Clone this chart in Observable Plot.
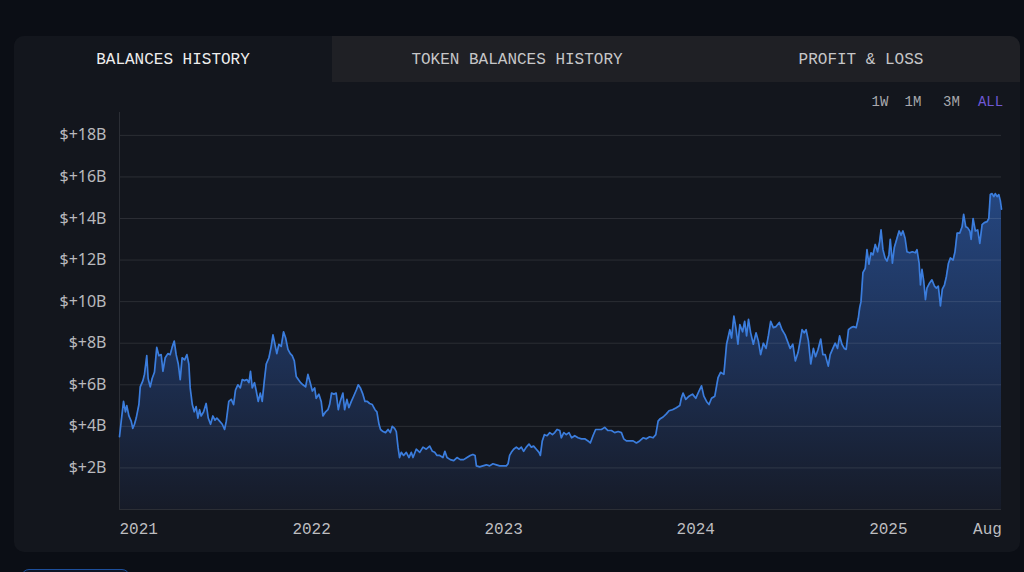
<!DOCTYPE html>
<html><head><meta charset="utf-8">
<script src="https://cdn.jsdelivr.net/npm/d3@7"></script>
<script src="https://cdn.jsdelivr.net/npm/@observablehq/plot@0.6"></script>
<style>
html,body{margin:0;padding:0;background:#0b0e15;width:1024px;height:572px;overflow:hidden;}
#card{position:absolute;left:14px;top:36px;width:1006px;height:516px;background:#13161d;border-radius:10px;overflow:hidden;}
.tab{position:absolute;top:0;height:46px;line-height:48px;text-align:center;font-family:"Liberation Mono",monospace;font-size:16px;color:#c6c6c8;}
#t1{left:0;width:318px;color:#ededed;background:#13161d}
#t2{left:318px;width:370px;background:#1f2025}
#t3{left:688px;width:318px;background:#1f2025}
.rng{position:absolute;top:56px;width:40px;height:20px;line-height:20px;text-align:center;font-family:"Liberation Mono",monospace;font-size:14px;color:#a9a9ad;z-index:2}
#chart{position:absolute;left:0;top:46px;}
#btn{position:absolute;left:21px;top:569px;width:107px;height:30px;border:1.5px solid #1d4f9c;border-radius:8px;background:#0d1526;}
</style></head>
<body>
<div id="card">
  <div class="tab" id="t1">BALANCES HISTORY</div>
  <div class="tab" id="t2">TOKEN BALANCES HISTORY</div>
  <div class="tab" id="t3">PROFIT &amp; LOSS</div>
  <div id="ranges"></div>
  <div id="chart"></div>
</div>
<div id="btn"></div>
<script>
// years elapsed since 2021-01-01 for each reading
const tYears = [
0.000,0.009,0.021,0.031,0.038,0.049,0.061,0.069,0.078,0.087,0.101,0.108,0.122,0.130,0.142,0.149,0.160,0.170,0.182,0.194,
0.205,0.217,0.226,0.238,0.252,0.264,0.274,0.285,0.295,0.306,0.316,0.326,0.339,0.351,0.361,0.368,0.379,0.389,0.399,0.408,
0.417,0.425,0.438,0.451,0.462,0.474,0.486,0.497,0.507,0.521,0.535,0.547,0.556,0.569,0.582,0.594,0.604,0.616,0.629,0.639,
0.651,0.663,0.674,0.682,0.691,0.703,0.712,0.722,0.733,0.743,0.754,0.764,0.778,0.790,0.799,0.809,0.819,0.830,0.842,0.854,
0.865,0.877,0.889,0.899,0.910,0.920,0.931,0.943,0.955,0.969,0.981,0.993,1.004,1.016,1.024,1.038,1.050,1.059,1.073,1.085,
1.094,1.104,1.116,1.128,1.139,1.149,1.163,1.172,1.184,1.194,1.207,1.219,1.233,1.243,1.254,1.267,1.278,1.290,1.302,1.316,
1.330,1.340,1.351,1.359,1.372,1.385,1.398,1.410,1.420,1.432,1.441,
1.450,1.458,1.467,1.479,1.493,1.507,1.519,1.528,1.545,1.563,1.580,1.597,1.615,1.629,1.641,1.653,1.667,1.684,1.694,1.705,
1.722,1.740,1.757,1.774,1.792,1.809,1.826,1.840,1.851,1.858,1.875,1.892,1.910,1.927,1.944,1.962,1.979,1.997,2.014,2.023,
2.031,2.040,2.052,2.066,2.080,2.092,2.104,2.118,2.132,2.144,2.156,2.170,2.184,2.191,2.201,2.212,2.226,2.240,2.254,2.266,
2.278,2.292,2.300,2.313,2.326,2.340,2.354,2.370,2.387,2.405,2.422,2.439,2.451,2.465,2.479,2.491,2.509,2.526,2.543,2.561,
2.578,2.596,2.613,2.625,2.639,2.656,2.674,2.691,2.708,2.726,2.743,2.760,2.778,2.792,2.804,2.813,2.830,2.847,2.861,2.879,
2.899,2.917,
2.925,2.934,2.948,2.965,2.983,3.000,3.017,3.030,3.042,3.056,3.069,3.082,3.099,3.116,3.129,3.146,3.160,3.177,3.186,3.198,
3.208,3.219,3.229,3.243,3.254,3.264,3.274,3.285,3.299,3.313,3.325,3.337,3.351,3.365,3.377,3.389,3.403,3.417,3.434,3.448,
3.464,3.476,3.490,3.504,3.517,3.531,3.542,3.552,3.563,3.573,3.585,3.597,3.611,3.622,3.635,3.649,3.660,3.672,3.688,3.698,
3.712,3.724,3.736,3.747,3.759,3.771,3.781,3.793,3.806,3.819,3.833,3.844,3.851,3.858,3.868,3.880,3.889,3.899,3.910,3.920,
3.932,3.944,3.955,3.962,3.972,3.983,3.993,4.003,4.010,4.021,4.031,4.045,4.056,4.066,4.076,4.087,4.097,4.111,4.125,4.141,
4.149,4.160,4.167,4.175,4.184,4.193,4.201,4.215,4.227,4.240,4.250,4.260,4.271,4.281,4.292,4.302,4.313,4.323,4.337,4.347,
4.358,4.372,4.384,4.392,4.403,4.413,4.424,4.431,4.441,4.453,4.465,4.476,4.488,4.500,4.514,4.523,4.528,4.531,4.540,4.549,
4.557,4.566,4.575,4.583,4.589
];
// balance in billions of USD
const balances = [
3.5,4.25,5.2,4.7,5.0,4.5,4.25,3.9,4.1,4.4,5.05,5.9,6.2,6.5,7.4,6.3,5.9,6.3,6.6,7.8,
7.4,7.45,6.65,7.3,7.5,7.45,7.8,8.1,7.45,7.0,6.25,7.3,7.2,7.45,7.0,5.85,5.05,4.7,4.95,4.4,
4.8,4.5,4.7,5.1,4.4,4.1,4.5,4.3,4.4,4.25,4.1,3.85,4.25,5.2,5.3,5.05,5.75,6.0,5.85,6.25,
6.2,6.25,6.1,6.65,5.85,6.1,5.7,5.2,5.6,5.2,6.2,7.0,7.3,7.85,8.4,7.95,7.5,7.95,7.85,8.55,
8.25,7.7,7.5,7.4,7.15,6.4,6.25,6.1,6.0,5.9,6.5,6.1,5.7,5.85,5.35,5.55,5.2,4.5,4.7,4.8,
5.05,5.6,5.55,5.6,4.8,5.2,5.6,4.8,5.3,4.9,5.2,5.45,5.75,6.0,5.85,5.55,5.2,5.2,5.1,5.05,
4.8,4.7,4.1,3.85,3.75,3.7,3.85,3.7,4.0,3.9,3.75,
3.0,2.5,2.75,2.6,2.75,2.5,2.75,2.5,2.9,2.75,3.0,2.9,3.05,2.8,2.75,2.6,2.6,2.5,2.8,2.5,
2.4,2.35,2.5,2.4,2.4,2.5,2.6,2.65,2.6,2.1,2.05,2.1,2.15,2.1,2.2,2.15,2.1,2.1,2.1,2.2,
2.6,2.75,2.9,3.0,2.9,3.0,2.8,3.0,3.15,3.0,3.05,2.9,2.75,2.6,3.3,3.6,3.55,3.7,3.6,3.7,
3.85,3.8,3.45,3.7,3.6,3.7,3.45,3.55,3.45,3.4,3.4,3.3,3.2,3.55,3.85,3.85,3.85,3.95,3.8,3.8,
3.7,3.75,3.7,3.4,3.3,3.3,3.3,3.2,3.3,3.45,3.4,3.5,3.45,3.6,4.25,4.35,4.45,4.6,4.75,4.8,
4.9,5.0,
5.35,5.6,5.3,5.45,5.55,5.35,5.7,5.95,5.45,5.2,5.05,5.35,5.45,6.35,6.6,6.5,7.95,8.65,8.25,9.3,
8.75,7.95,8.9,8.55,9.05,8.35,9.15,8.5,7.95,8.5,8.1,7.45,8.0,7.75,8.35,9.05,8.75,8.8,9.0,8.65,
8.4,8.1,7.75,7.95,7.15,7.55,8.1,8.65,8.5,8.65,8.1,7.0,7.75,7.35,7.7,8.2,7.45,7.45,6.9,7.45,
7.75,8.0,7.75,8.35,7.95,7.75,7.7,8.65,8.75,8.8,8.75,9.2,9.7,10.0,11.4,11.6,12.5,11.8,12.35,12.25,
12.75,12.4,12.9,13.45,12.5,12.1,11.95,12.25,13.0,11.85,12.6,13.05,13.4,13.2,13.4,13.05,12.4,12.35,12.4,12.35,
12.5,11.85,10.8,11.55,11.0,10.1,10.65,10.9,11.05,10.75,10.65,10.75,9.8,10.6,10.8,11.2,11.85,12.1,12.0,12.4,
13.3,13.3,13.6,14.2,13.6,13.55,13.4,13.0,14.0,13.4,13.45,12.8,13.7,13.8,13.85,14.0,14.75,15.15,15.2,15.05,
15.2,15.05,15.15,14.85,14.45
];
const yTicks = [2,4,6,8,10,12,14,16,18];
const xTickDates = ["2021-01-01","2022-01-01","2023-01-01","2024-01-01","2025-01-01","2025-08-01"];
const xTickLabels = ["2021","2022","2023","2024","2025","Aug"];
const ranges = ["1W","1M","3M","ALL"];
const rangeCenters = [866,899,937.5,976.5];

function toDate(t){
  const dec = 2021 + t, y = Math.floor(dec), f = dec - y;
  const a = Date.UTC(y,0,1), b = Date.UTC(y+1,0,1);
  return new Date(a + f*(b-a));
}
const data = tYears.map((t,i)=>({date: toDate(t), value: balances[i]}));
const ticks = xTickDates.map((d,i)=>({date: new Date(d+"T00:00:00Z"), label: xTickLabels[i]}));

const rdiv = document.getElementById("ranges");
ranges.forEach((r,i)=>{
  const s = document.createElement("span");
  s.className="rng"; s.textContent=r;
  s.style.left = (rangeCenters[i]-20)+"px";
  if (r==="ALL") s.style.color="#7059d6";
  rdiv.appendChild(s);
});

const gradDefs = () => {
  const ns="http://www.w3.org/2000/svg";
  const defs=document.createElementNS(ns,"defs");
  const g=document.createElementNS(ns,"linearGradient");
  g.setAttribute("id","balGrad");
  g.setAttribute("x1","0");g.setAttribute("y1","0");g.setAttribute("x2","0");g.setAttribute("y2","1");
  [["0","#25467f"],["0.55","#1d2f52"],["1","#161b28"]].forEach(([o,c])=>{
    const s=document.createElementNS(ns,"stop");
    s.setAttribute("offset",o);s.setAttribute("stop-color",c);g.appendChild(s);
  });
  defs.appendChild(g);
  return defs;
};

const gridColor = "#2b2e35";
const chart = Plot.plot({
  width: 1006, height: 470,
  marginLeft: 105, marginRight: 19, marginTop: 30, marginBottom: 43,
  style: {background:"transparent", color:"#b9b9bd", fontFamily:"Noto Sans", fontSize:"16px", overflow:"visible"},
  x: {type:"utc", domain:[data[0].date, data[data.length-1].date], axis:null},
  y: {domain:[0,19.1], label:null},
  marks: [
    gradDefs,
    Plot.areaY(data, {x:"date", y:"value", fill:"url(#balGrad)"}),
    Plot.gridY(yTicks, {stroke:"#ffffff", strokeOpacity:0.1}),
    Plot.ruleY([0], {stroke:gridColor}),
    Plot.ruleX([data[0].date], {stroke:gridColor}),
    Plot.lineY(data, {x:"date", y:"value", stroke:"#3b7ddd", strokeWidth:1.7}),
    Plot.axisY({ticks:yTicks, tickFormat:d=>`$+${d}B`, tickSize:0, tickPadding:13, label:null}),
    Plot.text(ticks.slice(0,1), {x:"date", text:"label", frameAnchor:"bottom", dy:19, lineAnchor:"middle", textAnchor:"start", fontFamily:"Liberation Mono", fontSize:16, fill:"#bdbdc0"}),
    Plot.text(ticks.slice(1,-1), {x:"date", text:"label", frameAnchor:"bottom", dy:19, lineAnchor:"middle", textAnchor:"middle", fontFamily:"Liberation Mono", fontSize:16, fill:"#bdbdc0"}),
    Plot.text(ticks.slice(-1), {x:"date", text:"label", frameAnchor:"bottom", dy:19, lineAnchor:"middle", textAnchor:"end", dx:2, fontFamily:"Liberation Mono", fontSize:16, fill:"#bdbdc0"})
  ]
});
document.getElementById("chart").appendChild(chart);
</script>
</body></html>
